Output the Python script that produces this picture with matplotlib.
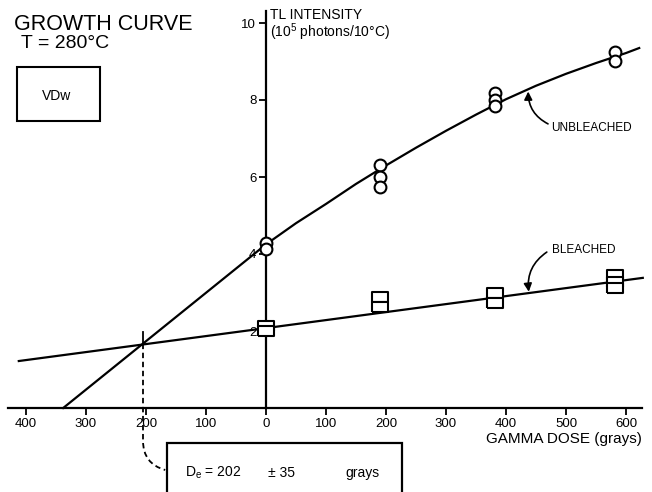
import numpy as np
import matplotlib.pyplot as plt
from matplotlib.path import Path
from matplotlib.patches import PathPatch, Rectangle

plt.rcParams['font.family'] = ['Liberation Sans', 'DejaVu Sans']
plt.rcParams['mathtext.fontset'] = 'custom'
plt.rcParams['mathtext.rm'] = 'Liberation Sans'
plt.rcParams['mathtext.it'] = 'Liberation Sans'

# measured TL intensities (1e5 photons / 10 C) vs added gamma dose (grays)
dose_ub = [0, 0, 190, 190, 190, 382, 382, 382, 582, 582]
tl_ub = [4.28, 4.12, 6.31, 6.0, 5.74, 8.18, 8.0, 7.84, 9.25, 9.01]
dose_bl = [0, 0, 190, 190, 382, 382, 582, 582, 582]
tl_bl = [2.12, 2.0, 2.88, 2.62, 3.0, 2.72, 3.45, 3.28, 3.12]

# fitted growth curves
curve_ub_x = [-338, 0, 50, 100, 150, 200, 250, 300, 350, 400, 450, 500, 550,
              600, 622]
curve_ub_y = [0.0, 4.25, 4.8, 5.3, 5.82, 6.3, 6.76, 7.2, 7.62, 8.02, 8.37,
              8.68, 8.96, 9.22, 9.35]
curve_bl_x = [-412, 628]
curve_bl_y = [1.22, 3.38]

de = -205  # extrapolated intersection (equivalent dose)
de_tl = 1.67

xticks = list(range(-400, 700, 100))
yticks = [2, 4, 6, 8, 10]

W, H = 652, 492
fig = plt.figure(figsize=(W / 100, H / 100), dpi=100)
ax = fig.add_axes([0, 0, 1, 1])
ax.set_xlim(-266 / 0.6, (W - 266) / 0.6)
ax.set_ylim((408 - H) / 38.5, 408 / 38.5)

def fx(px):
  return px / W

def fy(py):
  return 1 - py / H

lw = 1.6
for s in ['top', 'right']:
  ax.spines[s].set_visible(False)
ax.spines['left'].set_position(('data', 0))
ax.spines['bottom'].set_position(('data', 0))
ax.spines['left'].set_bounds(0, 10.3)
ax.spines['bottom'].set_bounds(-430, 627)
ax.spines['left'].set_linewidth(lw)
ax.spines['bottom'].set_linewidth(lw)
ax.set_xticks(xticks)
ax.set_xticklabels([str(abs(t)) for t in xticks])
ax.set_yticks(yticks)
ax.tick_params(direction='out', length=5, width=1.3, labelsize=9.5, pad=2)
ax.patch.set_visible(False)

ax.plot(curve_ub_x, curve_ub_y, color='black', lw=lw, zorder=3)
ax.plot(curve_bl_x, curve_bl_y, color='black', lw=lw, zorder=3)
ax.plot(dose_ub, tl_ub, linestyle='none', marker='o', ms=8.5, mfc='white',
        mec='black', mew=1.5, zorder=4)
rect = [(-1.5, -1), (1.5, -1), (1.5, 1), (-1.5, 1), (-1.5, -1)]
ax.plot(dose_bl, tl_bl, linestyle='none', marker=rect, ms=11, mfc='white',
        mec='black', mew=1.5, zorder=4)

# equivalent dose construction
ax.plot([de, de], [de_tl, de_tl + 0.3], color='black', lw=1.3)
verts = [(de, de_tl), (de, -0.85), (de, -1.45), (-168, -1.61)]
codes = [Path.MOVETO, Path.LINETO, Path.CURVE3, Path.CURVE3]
ax.add_patch(PathPatch(Path(verts, codes), fill=False, lw=1.3, ls=(0, (3, 2)),
                       clip_on=False))

# labels with arrows
ax.annotate('', xy=(437, 8.22), xytext=(470, 7.38),
            arrowprops=dict(arrowstyle='-|>', color='black', lw=1.2,
                            connectionstyle='arc3,rad=-0.3', mutation_scale=12,
                            shrinkA=0, shrinkB=0))
ax.text(475, 7.27, 'UNBLEACHED', fontsize=8.5, va='center', ha='left')
ax.annotate('', xy=(438, 3.02), xytext=(468, 4.05),
            arrowprops=dict(arrowstyle='-|>', color='black', lw=1.2,
                            connectionstyle='arc3,rad=0.3', mutation_scale=12,
                            shrinkA=0, shrinkB=0))
ax.text(477, 4.1, 'BLEACHED', fontsize=8.5, va='center', ha='left')

# titles and boxes
fig.text(fx(14), fy(30), 'GROWTH CURVE', fontsize=15.5, va='baseline')
fig.text(fx(21), fy(48), 'T = 280°C', fontsize=14, va='baseline')
fig.add_artist(Rectangle((fx(17), fy(121)), fx(83), 54 / H, fill=False,
                         lw=1.5, transform=fig.transFigure))
fig.text(fx(42), fy(100), 'VDw', fontsize=10, va='baseline')

fig.text(fx(270), fy(19), 'TL INTENSITY', fontsize=10, va='baseline')
fig.text(fx(270), fy(37), '(10$^{5}$ photons/10°C)', fontsize=10, va='baseline')
fig.text(fx(642), fy(443), 'GAMMA DOSE (grays)', fontsize=11, va='baseline',
         ha='right')

fig.add_artist(Rectangle((fx(167), fy(500)), fx(235), 57 / H, fill=False,
                         lw=1.6, transform=fig.transFigure))
fig.text(fx(185), fy(477), 'D$_{e}$ = 202', fontsize=10, va='baseline')
fig.text(fx(268), fy(477), '± 35', fontsize=10, va='baseline')
fig.text(fx(345), fy(477), 'grays', fontsize=10, va='baseline')

fig.savefig('out.png', dpi=100)
